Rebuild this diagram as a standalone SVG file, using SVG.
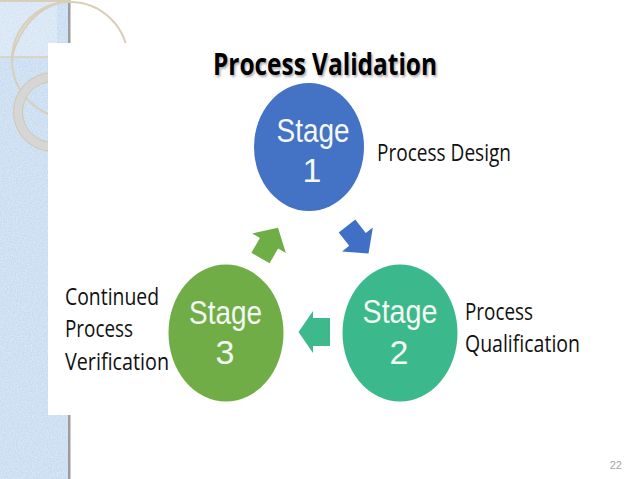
<svg xmlns="http://www.w3.org/2000/svg" width="638" height="479" viewBox="0 0 638 479">
  <defs>
    <style>
      .stage { font-family: "Liberation Sans", sans-serif; font-size: 34px; fill: #f4f8f2; text-anchor: middle; }
      .label { font-family: "Open Sans", "Liberation Sans", sans-serif; font-size: 23px; fill: #111111; }
      .title { font-family: "Open Sans", "Liberation Sans", sans-serif; font-size: 30px; font-weight: bold; }
      .arc { fill: none; stroke: #d9cfb8; stroke-width: 2; }
    </style>
    <filter id="tex" x="0" y="0" width="1" height="1">
      <feTurbulence type="fractalNoise" baseFrequency="0.8" numOctaves="2" seed="3" result="n"/>
      <feColorMatrix in="n" type="matrix" values="0 0 0 0 1  0 0 0 0 1  0 0 0 0 1  0.9 0 0 0 -0.25"/>
    </filter>
    <filter id="shadow" x="-5%" y="-20%" width="110%" height="140%">
      <feGaussianBlur stdDeviation="1.2"/>
    </filter>
  </defs>

  <!-- slide background -->
  <rect x="0" y="0" width="638" height="479" fill="#ffffff"/>
  <rect x="0" y="0" width="70" height="479" fill="#c6dbf1"/>
  <rect x="0" y="0" width="70" height="479" fill="#ffffff" filter="url(#tex)" opacity="0.8"/>
  <rect x="0" y="0" width="57" height="57" fill="#ffffff" opacity="0.25"/>
  <rect x="68" y="0" width="2.5" height="479" fill="#9c9c9c"/>
  <line x1="0" y1="1" x2="70" y2="1" stroke="#d9cfb8" stroke-width="2"/>
  <line x1="0" y1="57" x2="57" y2="57" stroke="#d9cfb8" stroke-width="1.5"/>
  <path class="arc" d="M12,57 Q24,12 62,2"/>
  <circle class="arc" cx="70" cy="60" r="58"/>
  <circle cx="53" cy="112" r="35" fill="none" stroke="#d6d6d6" stroke-width="9"/>
  <circle cx="53" cy="112" r="39.5" fill="none" stroke="#d2c6aa" stroke-width="1"/>
  <circle cx="53" cy="112" r="30.5" fill="none" stroke="#d2c6aa" stroke-width="1"/>

  <!-- white picture area -->
  <rect x="48" y="43" width="590" height="372" fill="#ffffff"/>

  <!-- title -->
  <g id="title">
    <text class="title" x="214.5" y="76.5" textLength="224" lengthAdjust="spacingAndGlyphs" fill="#9a9a9a" filter="url(#shadow)" opacity="0.8">Process Validation</text>
    <text class="title" x="213" y="75" textLength="224" lengthAdjust="spacingAndGlyphs" fill="#000000">Process Validation</text>
  </g>

  <!-- connectors -->
  <g id="connectors">
    <polygon fill="#4070c6" points="0,-10.5 17,-10.5 17,-19.5 35,0 17,19.5 17,10.5 0,10.5" transform="translate(347,226) rotate(52)"/>
    <polygon fill="#3db98c" points="330,318 313,318 313,311 298.5,332 313,353 313,346 330,346"/>
    <polygon fill="#6fad46" points="0,-10.5 17,-10.5 17,-19.5 35,0 17,19.5 17,10.5 0,10.5" transform="translate(260.5,258) rotate(-60)"/>
  </g>

  <!-- nodes -->
  <g id="stage1">
    <ellipse cx="309" cy="147" rx="55" ry="64" fill="#4472c4"/>
    <text class="stage"><tspan x="313" y="142" textLength="73" lengthAdjust="spacingAndGlyphs">Stage</tspan><tspan x="312" y="182">1</tspan></text>
    <text class="label" x="377" y="161" textLength="134" lengthAdjust="spacingAndGlyphs">Process Design</text>
  </g>

  <g id="stage2">
    <ellipse cx="400" cy="333" rx="57.5" ry="68.5" fill="#3cb98c"/>
    <text class="stage"><tspan x="400" y="323" textLength="75" lengthAdjust="spacingAndGlyphs">Stage</tspan><tspan x="399" y="364">2</tspan></text>
    <text class="label" x="465" y="320" textLength="68" lengthAdjust="spacingAndGlyphs">Process</text>
    <text class="label" x="465" y="352" textLength="115" lengthAdjust="spacingAndGlyphs">Qualification</text>
  </g>

  <g id="stage3">
    <ellipse cx="226" cy="333" rx="57.5" ry="68.5" fill="#70ad47"/>
    <text class="stage"><tspan x="225.5" y="324" textLength="73" lengthAdjust="spacingAndGlyphs">Stage</tspan><tspan x="225" y="364">3</tspan></text>
    <text class="label" x="65" y="305" textLength="94" lengthAdjust="spacingAndGlyphs">Continued</text>
    <text class="label" x="65" y="337" textLength="68" lengthAdjust="spacingAndGlyphs">Process</text>
    <text class="label" x="65" y="370" textLength="104" lengthAdjust="spacingAndGlyphs">Verification</text>
  </g>

  <!-- page number -->
  <text x="622" y="469" text-anchor="end" font-family="Liberation Sans, sans-serif" font-size="11" fill="#a6a6a6">22</text>
</svg>
